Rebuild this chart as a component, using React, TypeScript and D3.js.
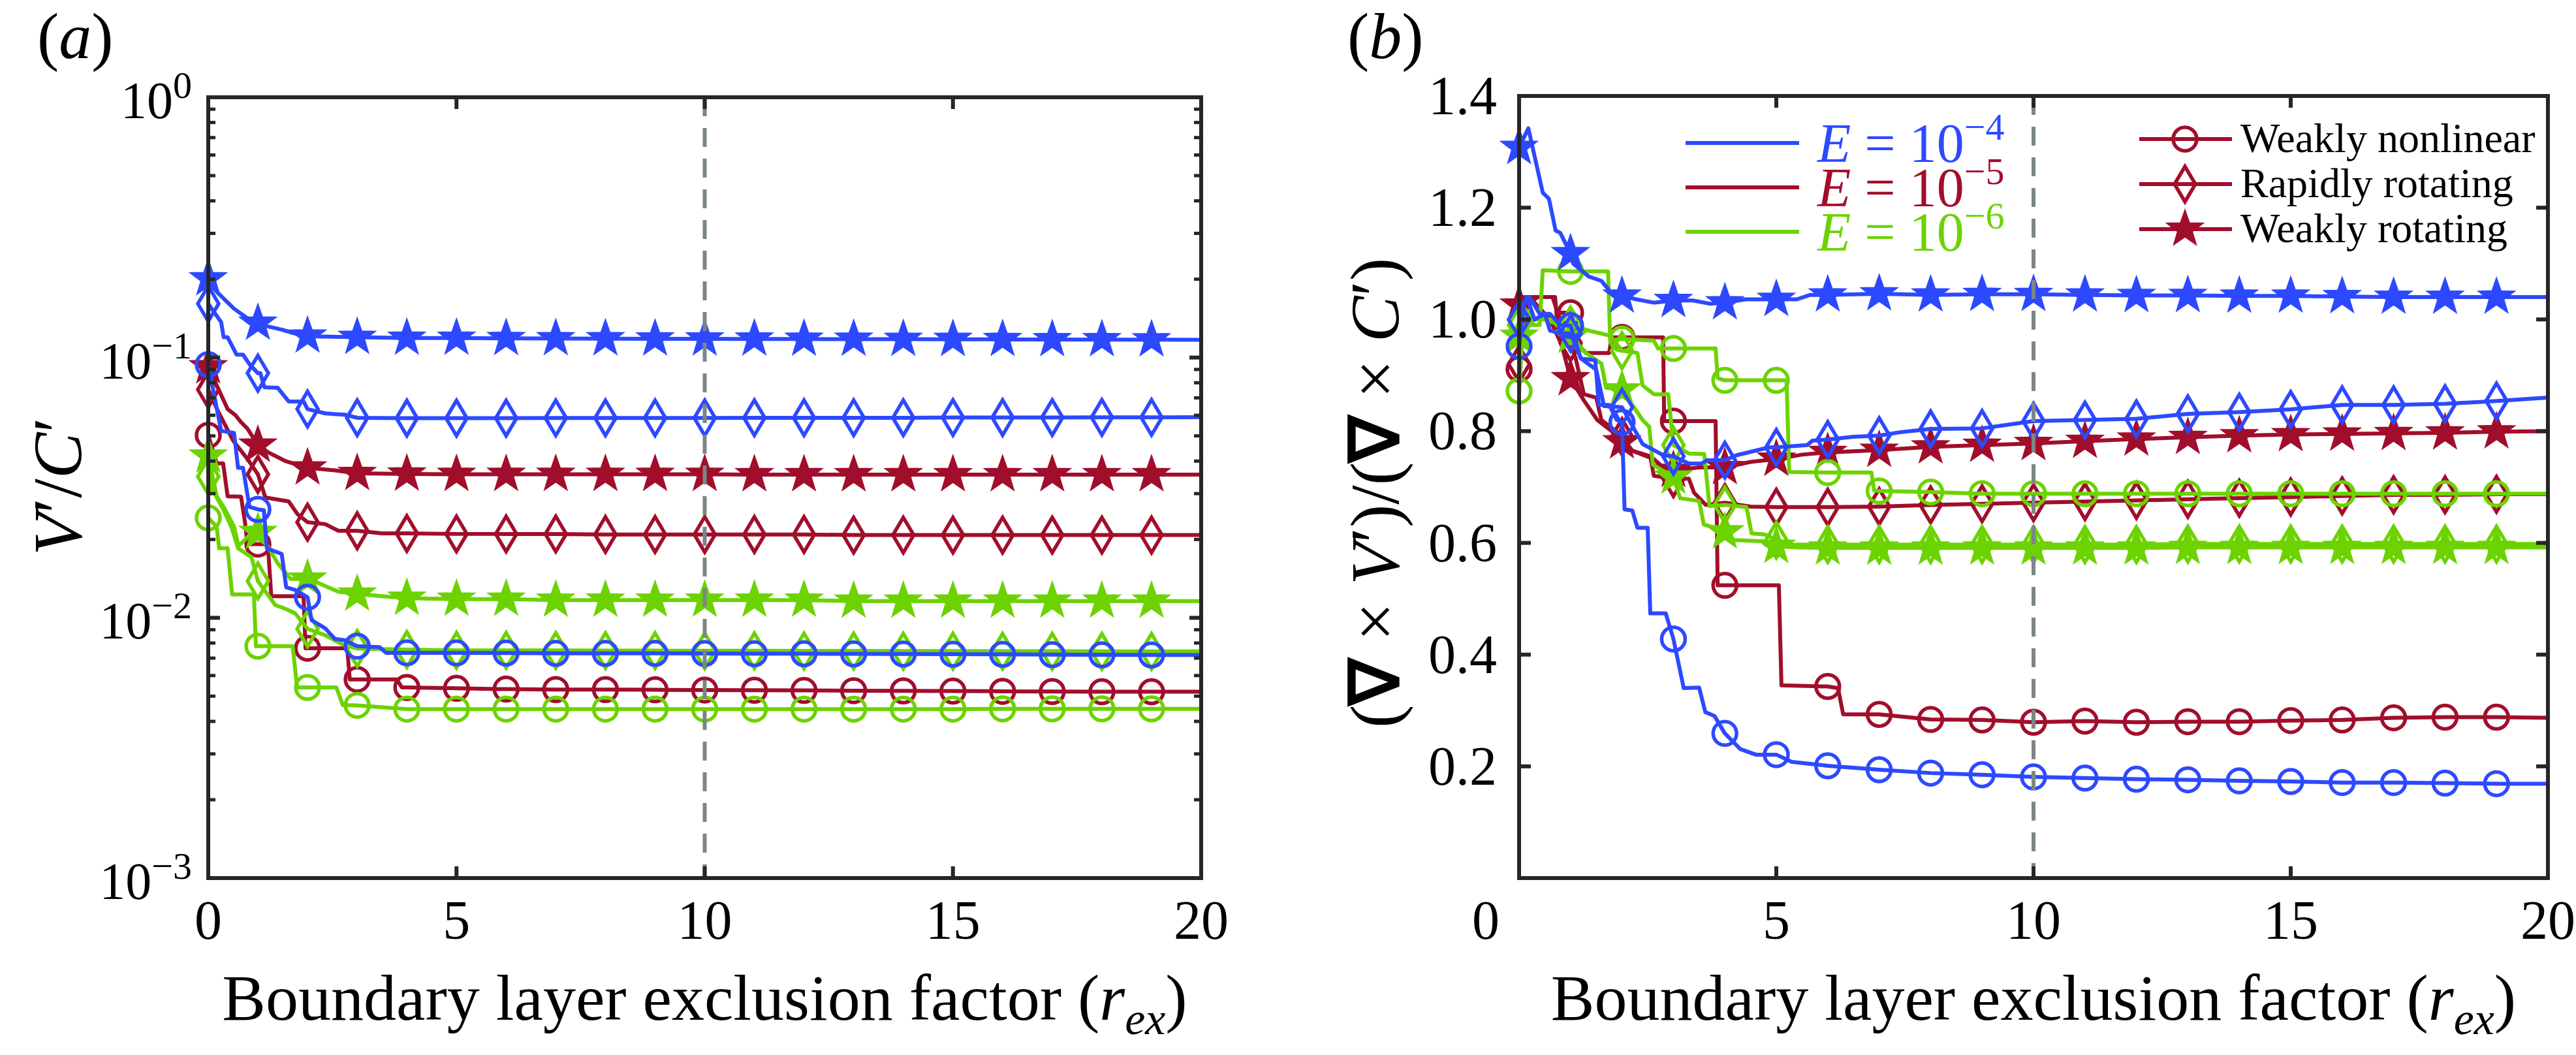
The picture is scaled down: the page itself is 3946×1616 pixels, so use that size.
import React from 'react';
import * as d3 from 'd3';

const W = 3946;
const H = 1616;
const BLUE = '#2D49FF';
const RED = '#A10E2B';
const GREEN = '#6CD300';
const AXIS = '#262626';
const DASH = '#7C8686';
const FONT = "'Liberation Serif', 'Times New Roman', serif";

// axis ticks
const xTickValues = [0, 5, 10, 15, 20];
const logDecades = [1e-3, 1e-2, 1e-1, 1];
const logExponents = ['−3', '−2', '−1', '0'];
const linTickValues = [0.2, 0.4, 0.6, 0.8, 1.0, 1.2, 1.4];
const linTickLabels = ['0.2', '0.4', '0.6', '0.8', '1.0', '1.2', '1.4'];
const legendExponents = ['−4', '−5', '−6'];
const legendKinds = ['Weakly nonlinear', 'Rapidly rotating', 'Weakly rotating'];
const cutoff = 10;

// panel (a): V'/C'  [r_ex, value]
const aBlueCircle = [[0, 0.094], [0.26, 0.0523], [0.52, 0.0513], [0.6, 0.0377], [0.7, 0.0377], [0.83, 0.0267], [1, 0.0261], [1.12, 0.0259], [1.18, 0.0185], [1.48, 0.0176], [1.57, 0.0131], [1.75, 0.0128], [2, 0.012], [2.08, 0.0098], [2.36, 0.0091], [2.55, 0.0083], [2.75, 0.0082], [3, 0.00778], [3.45, 0.00772], [3.58, 0.00734], [4, 0.00734], [5, 0.00733], [6, 0.00732], [7, 0.0073], [8, 0.0073], [9, 0.0073], [10, 0.00729], [11, 0.00728], [12, 0.00728], [13, 0.00727], [14, 0.00726], [15, 0.00725], [16, 0.00724], [17, 0.00722], [18, 0.00721], [19, 0.0072], [20, 0.0072]];
const aBlueDiamond = [[0, 0.161], [0.26, 0.1368], [0.31, 0.1197], [0.39, 0.1197], [0.57, 0.1026], [0.7, 0.1026], [0.83, 0.0943], [1, 0.0871], [1.05, 0.0871], [1.13, 0.0769], [1.4, 0.0765], [1.62, 0.0678], [1.92, 0.0678], [2, 0.0634], [2.36, 0.061], [2.75, 0.0603], [3, 0.0587], [4, 0.0585], [5, 0.0585], [6, 0.0585], [7, 0.0586], [8, 0.0586], [9, 0.0586], [10, 0.0586], [11, 0.0587], [12, 0.0587], [13, 0.0587], [14, 0.0587], [15, 0.0588], [16, 0.0588], [17, 0.0588], [18, 0.0589], [19, 0.0589], [20, 0.059]];
const aBlueStar = [[0, 0.201], [0.17, 0.179], [0.52, 0.154], [0.83, 0.1397], [1, 0.1356], [1.18, 0.132], [1.48, 0.128], [1.79, 0.123], [2, 0.121], [2.27, 0.1205], [3, 0.1197], [4, 0.1188], [5, 0.1188], [6, 0.1185], [7, 0.1183], [8, 0.1182], [9, 0.118], [10, 0.118], [11, 0.1179], [12, 0.1178], [13, 0.1177], [14, 0.1176], [15, 0.1175], [16, 0.1174], [17, 0.1173], [18, 0.1172], [19, 0.1171], [20, 0.117]];
const aRedCircle = [[0, 0.0503], [0.17, 0.0392], [0.3, 0.0392], [0.39, 0.0293], [0.66, 0.0292], [0.74, 0.0233], [0.79, 0.0192], [1, 0.0192], [1.2, 0.0192], [1.27, 0.0121], [1.92, 0.0121], [1.96, 0.00764], [2, 0.00764], [2.8, 0.00764], [2.85, 0.0058], [3, 0.0058], [3.8, 0.0058], [3.9, 0.0054], [4, 0.0054], [5, 0.00536], [6, 0.00532], [7, 0.0053], [8, 0.0053], [9, 0.00529], [10, 0.00528], [11, 0.00527], [12, 0.00526], [13, 0.00525], [14, 0.00524], [15, 0.00523], [16, 0.00522], [17, 0.00521], [18, 0.0052], [19, 0.0052], [20, 0.0052]];
const aRedDiamond = [[0, 0.0753], [0.2, 0.062], [0.5, 0.048], [0.8, 0.0405], [1, 0.0356], [1.15, 0.029], [1.62, 0.028], [1.8, 0.025], [2, 0.0233], [2.36, 0.0229], [2.62, 0.0216], [3, 0.0216], [3.5, 0.0211], [4, 0.0211], [5, 0.021], [6, 0.021], [7, 0.021], [8, 0.0209], [9, 0.0209], [10, 0.0209], [11, 0.0209], [12, 0.0209], [13, 0.0208], [14, 0.0208], [15, 0.0208], [16, 0.0208], [17, 0.0208], [18, 0.0208], [19, 0.0208], [20, 0.0208]];
const aRedStar = [[0, 0.0922], [0.17, 0.0783], [0.39, 0.0634], [0.55, 0.06], [0.66, 0.0565], [0.79, 0.0533], [1, 0.0461], [1.22, 0.0431], [1.57, 0.0399], [2, 0.0377], [2.53, 0.0369], [3, 0.0359], [4, 0.0357], [5, 0.0356], [6, 0.0356], [7, 0.0356], [8, 0.0356], [9, 0.0356], [10, 0.0356], [11, 0.0355], [12, 0.0355], [13, 0.0355], [14, 0.0355], [15, 0.0355], [16, 0.0355], [17, 0.0355], [18, 0.0355], [19, 0.0355], [20, 0.0355]];
const aGreenCircle = [[0, 0.0242], [0.17, 0.0224], [0.22, 0.0185], [0.39, 0.0185], [0.48, 0.0123], [0.92, 0.0123], [0.96, 0.00778], [1, 0.00778], [1.7, 0.00778], [1.79, 0.0054], [2, 0.0054], [2.58, 0.0054], [2.71, 0.00462], [3, 0.00461], [4, 0.00446], [5, 0.00446], [6, 0.00446], [7, 0.00446], [8, 0.00446], [9, 0.00446], [10, 0.00446], [11, 0.00446], [12, 0.00446], [13, 0.00446], [14, 0.00446], [15, 0.00446], [16, 0.00447], [17, 0.00447], [18, 0.00447], [19, 0.00447], [20, 0.00447]];
const aGreenDiamond = [[0, 0.0349], [0.17, 0.029], [0.3, 0.0262], [0.48, 0.022], [0.6, 0.0185], [0.87, 0.0171], [1, 0.01385], [1.35, 0.0112], [1.57, 0.0108], [1.75, 0.0104], [2, 0.00907], [2.36, 0.00857], [2.7, 0.0079], [3, 0.00762], [4, 0.00755], [5, 0.0075], [6, 0.0075], [7, 0.00749], [8, 0.00748], [9, 0.00748], [10, 0.00747], [11, 0.00747], [12, 0.00746], [13, 0.00746], [14, 0.00745], [15, 0.00745], [16, 0.00744], [17, 0.00744], [18, 0.00743], [19, 0.00743], [20, 0.00743]];
const aGreenStar = [[0, 0.0419], [0.17, 0.0293], [0.31, 0.0267], [0.52, 0.0224], [0.61, 0.0189], [0.8, 0.0205], [1, 0.0213], [1.22, 0.0185], [1.4, 0.0162], [1.66, 0.0141], [2, 0.0141], [2.18, 0.0137], [2.62, 0.0126], [3, 0.01235], [3.5, 0.0121], [4, 0.0119], [5, 0.0118], [6, 0.0118], [7, 0.0117], [8, 0.0117], [9, 0.0117], [10, 0.0117], [11, 0.0117], [12, 0.0117], [13, 0.0116], [14, 0.0116], [15, 0.0116], [16, 0.0116], [17, 0.0116], [18, 0.0116], [19, 0.0116], [20, 0.0116]];

// panel (b): (curl V')/(curl C')
const bBlueCircle = [[0, 0.952], [0.1, 1.03], [0.2, 1.04], [0.4, 1.01], [0.6, 1.01], [0.8, 0.99], [1, 0.989], [1.2, 0.93], [1.48, 0.927], [1.55, 0.847], [1.75, 0.847], [1.9, 0.82], [2, 0.816], [2.05, 0.66], [2.2, 0.658], [2.3, 0.627], [2.5, 0.627], [2.55, 0.474], [2.85, 0.474], [3, 0.428], [3.2, 0.34], [3.5, 0.341], [3.62, 0.297], [3.8, 0.29], [4, 0.259], [4.3, 0.231], [4.6, 0.221], [5, 0.221], [5.3, 0.208], [6, 0.201], [7, 0.194], [8, 0.188], [9, 0.185], [10, 0.181], [11, 0.179], [12, 0.177], [13, 0.176], [14, 0.174], [15, 0.173], [16, 0.171], [17, 0.171], [18, 0.17], [19, 0.169], [20, 0.169]];
const bBlueDiamond = [[0, 1.0], [0.15, 1.04], [0.3, 1.0], [0.5, 1.01], [0.6, 0.98], [0.8, 0.975], [1, 0.975], [1.2, 0.93], [1.5, 0.91], [1.65, 0.845], [2, 0.843], [2.4, 0.777], [2.8, 0.757], [3, 0.755], [3.3, 0.742], [3.55, 0.742], [3.65, 0.748], [4, 0.748], [4.23, 0.757], [4.86, 0.771], [5, 0.771], [5.6, 0.775], [5.7, 0.783], [6, 0.785], [6.5, 0.79], [7, 0.792], [7.4, 0.798], [8, 0.804], [9, 0.805], [10, 0.818], [11, 0.82], [12, 0.822], [13, 0.831], [14, 0.834], [15, 0.839], [16, 0.847], [17, 0.847], [18, 0.849], [19, 0.854], [20, 0.86]];
const bBlueStar = [[0, 1.308], [0.18, 1.342], [0.46, 1.227], [0.58, 1.216], [0.71, 1.159], [0.8, 1.155], [1, 1.118], [1.05, 1.1], [1.35, 1.077], [1.6, 1.069], [1.77, 1.05], [2, 1.042], [2.28, 1.036], [2.62, 1.03], [3, 1.034], [3.38, 1.034], [3.72, 1.028], [4, 1.03], [4.4, 1.036], [5, 1.036], [5.4, 1.036], [5.66, 1.044], [6, 1.044], [7, 1.046], [8, 1.044], [9, 1.045], [10, 1.045], [11, 1.044], [12, 1.043], [13, 1.043], [14, 1.042], [15, 1.042], [16, 1.041], [17, 1.04], [18, 1.04], [19, 1.04], [20, 1.04]];
const bRedCircle = [[0, 0.911], [0.1, 1.0], [0.2, 1.04], [0.65, 1.04], [0.75, 1.012], [1, 1.012], [1.2, 0.95], [1.3, 0.94], [1.75, 0.94], [1.8, 0.968], [2, 0.968], [2.8, 0.968], [2.82, 0.818], [3, 0.818], [3.82, 0.818], [3.86, 0.524], [4, 0.524], [5.05, 0.524], [5.1, 0.345], [6, 0.343], [6.2, 0.34], [6.3, 0.293], [7, 0.293], [8, 0.284], [9, 0.283], [10, 0.279], [11, 0.281], [12, 0.279], [13, 0.28], [14, 0.28], [15, 0.282], [16, 0.283], [17, 0.287], [18, 0.288], [19, 0.288], [20, 0.287]];
const bRedDiamond = [[0, 0.92], [0.1, 1.03], [0.3, 1.03], [0.6, 1.0], [0.8, 0.96], [1, 0.958], [1.1, 0.93], [1.26, 0.866], [1.5, 0.86], [1.6, 0.82], [1.94, 0.796], [2, 0.79], [2.2, 0.765], [2.55, 0.755], [2.62, 0.72], [3, 0.715], [3.3, 0.715], [3.4, 0.69], [3.63, 0.668], [4, 0.672], [4.5, 0.665], [5, 0.664], [6, 0.664], [7, 0.665], [8, 0.668], [9, 0.67], [10, 0.672], [11, 0.674], [12, 0.676], [13, 0.678], [14, 0.68], [15, 0.682], [16, 0.684], [17, 0.686], [18, 0.686], [19, 0.687], [20, 0.687]];
const bRedStar = [[0, 1.026], [0.1, 1.04], [0.7, 1.04], [0.76, 0.975], [0.88, 0.936], [1, 0.894], [1.26, 0.855], [1.52, 0.82], [1.8, 0.8], [2, 0.781], [2.2, 0.765], [2.62, 0.75], [2.8, 0.735], [3, 0.73], [3.5, 0.735], [4, 0.735], [4.5, 0.745], [5, 0.75], [5.5, 0.758], [6, 0.762], [7, 0.766], [8, 0.772], [9, 0.775], [10, 0.778], [11, 0.782], [12, 0.786], [13, 0.789], [14, 0.792], [15, 0.794], [16, 0.795], [17, 0.796], [18, 0.797], [19, 0.799], [20, 0.8]];
const bGreenCircle = [[0, 0.872], [0.08, 0.99], [0.4, 0.99], [0.46, 1.088], [1, 1.086], [1.73, 1.086], [1.77, 0.962], [2, 0.965], [2.62, 0.962], [2.7, 0.948], [3, 0.948], [3.82, 0.948], [3.86, 0.895], [4, 0.891], [5, 0.891], [5.2, 0.891], [5.25, 0.727], [6, 0.726], [6.85, 0.726], [6.9, 0.694], [7, 0.693], [8, 0.691], [9, 0.688], [10, 0.688], [11, 0.688], [12, 0.688], [13, 0.688], [14, 0.688], [15, 0.688], [16, 0.688], [17, 0.688], [18, 0.688], [19, 0.688], [20, 0.688]];
const bGreenDiamond = [[0, 0.99], [0.1, 1.02], [0.3, 1.0], [0.5, 1.0], [0.8, 0.99], [1, 0.99], [1.4, 0.979], [1.77, 0.971], [2, 0.944], [2.3, 0.94], [2.4, 0.882], [2.62, 0.866], [2.9, 0.866], [3, 0.775], [3.3, 0.76], [3.6, 0.759], [3.7, 0.666], [4, 0.668], [4.42, 0.664], [4.52, 0.617], [4.78, 0.615], [5, 0.605], [5.33, 0.597], [6, 0.597], [7, 0.597], [8, 0.597], [9, 0.597], [10, 0.597], [11, 0.597], [12, 0.597], [13, 0.598], [14, 0.598], [15, 0.598], [16, 0.598], [17, 0.598], [18, 0.598], [19, 0.598], [20, 0.598]];
const bGreenStar = [[0, 0.97], [0.3, 1.0], [0.6, 1.0], [1, 0.97], [1.3, 0.94], [1.6, 0.921], [1.69, 0.878], [2, 0.874], [2.4, 0.82], [2.53, 0.808], [2.6, 0.74], [3, 0.718], [3.13, 0.68], [3.5, 0.675], [3.59, 0.633], [3.8, 0.627], [4, 0.62], [4.18, 0.605], [4.73, 0.603], [4.82, 0.595], [5, 0.594], [5.41, 0.592], [6, 0.591], [7, 0.591], [8, 0.591], [9, 0.591], [10, 0.591], [11, 0.591], [12, 0.591], [13, 0.592], [14, 0.592], [15, 0.592], [16, 0.592], [17, 0.592], [18, 0.592], [19, 0.592], [20, 0.592]];

const panelA = [
  { data: aRedCircle, color: RED, marker: 'circle' },
  { data: aRedDiamond, color: RED, marker: 'diamond' },
  { data: aRedStar, color: RED, marker: 'star' },
  { data: aGreenCircle, color: GREEN, marker: 'circle' },
  { data: aGreenDiamond, color: GREEN, marker: 'diamond' },
  { data: aGreenStar, color: GREEN, marker: 'star' },
  { data: aBlueCircle, color: BLUE, marker: 'circle' },
  { data: aBlueDiamond, color: BLUE, marker: 'diamond' },
  { data: aBlueStar, color: BLUE, marker: 'star' },
];
const panelB = [
  { data: bRedCircle, color: RED, marker: 'circle' },
  { data: bRedDiamond, color: RED, marker: 'diamond' },
  { data: bRedStar, color: RED, marker: 'star' },
  { data: bGreenCircle, color: GREEN, marker: 'circle' },
  { data: bGreenDiamond, color: GREEN, marker: 'diamond' },
  { data: bGreenStar, color: GREEN, marker: 'star' },
  { data: bBlueCircle, color: BLUE, marker: 'circle' },
  { data: bBlueDiamond, color: BLUE, marker: 'diamond' },
  { data: bBlueStar, color: BLUE, marker: 'star' },
];

const starPath = (R: number) => {
  const pts = d3.range(10).map(i => {
    const a = -Math.PI / 2 + i * Math.PI / 5;
    const r = i % 2 === 0 ? R : R * 0.4;
    return [r * Math.cos(a), r * Math.sin(a)];
  });
  return 'M' + pts.map(p => p[0].toFixed(2) + ',' + p[1].toFixed(2)).join('L') + 'Z';
};
const STAR = starPath(29);
const DIAMOND = 'M0,-27L16,0L0,27L-16,0Z';

function Marker({ kind, color, cx, cy }: any) {
  if (kind === 'circle')
    return <circle cx={cx} cy={cy} r={18} fill="none" stroke={color} strokeWidth={5.5} />;
  if (kind === 'diamond')
    return <path transform={`translate(${cx},${cy})`} d={DIAMOND} fill="none" stroke={color} strokeWidth={5.5} strokeLinejoin="miter" />;
  return <path transform={`translate(${cx},${cy})`} d={STAR} fill={color} stroke={color} strokeWidth={2} strokeLinejoin="miter" />;
}

function Series({ s, x, y }: any) {
  const line = d3.line<number[]>().x(d => x(d[0])).y(d => y(d[1]));
  const marks = s.data.filter((d: number[]) => Number.isInteger(d[0]) && d[0] < 20);
  return (
    <g>
      <path d={line(s.data) || ''} fill="none" stroke={s.color} strokeWidth={6} strokeLinejoin="round" />
      {marks.map((d: number[], i: number) => (
        <Marker key={i} kind={s.marker} color={s.color} cx={x(d[0])} cy={y(d[1])} />
      ))}
    </g>
  );
}

function XLabel({ cx }: { cx: number }) {
  return (
    <text x={cx} y={1562} textAnchor="middle" fontSize={100} fontFamily={FONT} fill="#000">
      Boundary layer exclusion factor (<tspan fontStyle="italic">r</tspan>
      <tspan fontStyle="italic" fontSize={70} dy={22}>ex</tspan>
      <tspan dy={-22}>)</tspan>
    </text>
  );
}

export default function App() {
  const xA = d3.scaleLinear().domain([0, 20]).range([319, 1840]);
  const yA = d3.scaleLog().domain([1e-3, 1]).range([1345, 149]);
  const xB = d3.scaleLinear().domain([0, 20]).range([2327, 3903]);
  const yB = d3.scaleLinear().domain([0, 1.4]).range([1345, 147]);

  const minorA: number[] = [];
  logDecades.slice(0, 3).forEach(d => { for (let k = 2; k <= 9; k++) minorA.push(k * d); });

  const [ax0, ax1] = xA.range();
  const [ay1, ay0] = yA.range();
  const [bx0, bx1] = xB.range();
  const [by1, by0] = yB.range();
  const inner = xTickValues.filter(v => v > 0 && v < 20);

  return (
    <svg width={W} height={H} style={{ position: 'absolute', left: 0, top: 0, background: '#fff' }}>
      <rect x={0} y={0} width={W} height={H} fill="#fff" />

      {/* ---------- panel (a) ---------- */}
      <text x={57} y={89} fontSize={100} fontFamily={FONT}>(<tspan fontStyle="italic">a</tspan>)</text>
      {panelA.map((s, i) => <Series key={i} s={s} x={xA} y={yA} />)}
      <line x1={xA(cutoff)} x2={xA(cutoff)} y1={ay0} y2={ay1} stroke={DASH} strokeWidth={6} strokeDasharray="29 18" />
      <rect x={ax0} y={ay0} width={ax1 - ax0} height={ay1 - ay0} fill="none" stroke={AXIS} strokeWidth={6} />
      {inner.map(v => (
        <g key={v} stroke={AXIS} strokeWidth={6}>
          <line x1={xA(v)} x2={xA(v)} y1={ay1} y2={ay1 - 18} />
          <line x1={xA(v)} x2={xA(v)} y1={ay0} y2={ay0 + 18} />
        </g>
      ))}
      {logDecades.map(v => (
        <g key={v} stroke={AXIS} strokeWidth={6}>
          <line x1={ax0} x2={ax0 + 18} y1={yA(v)} y2={yA(v)} />
          <line x1={ax1} x2={ax1 - 18} y1={yA(v)} y2={yA(v)} />
        </g>
      ))}
      {minorA.map(v => (
        <g key={v} stroke={AXIS} strokeWidth={5}>
          <line x1={ax0} x2={ax0 + 11} y1={yA(v)} y2={yA(v)} />
          <line x1={ax1} x2={ax1 - 11} y1={yA(v)} y2={yA(v)} />
        </g>
      ))}
      {logDecades.map((v, i) => (
        <text key={v} x={294} y={yA(v) + 32} textAnchor="end" fontSize={80} fontFamily={FONT}>
          10<tspan fontSize={58} dy={-31}>{logExponents[i]}</tspan>
        </text>
      ))}
      {xTickValues.map(v => (
        <text key={v} x={xA(v)} y={1438} textAnchor="middle" fontSize={84} fontFamily={FONT}>{v}</text>
      ))}
      <text transform={`translate(124,745) rotate(-90)`} textAnchor="middle" fontSize={106} fontFamily={FONT}>
        <tspan fontStyle="italic">V</tspan>′/<tspan fontStyle="italic">C</tspan>′
      </text>
      <XLabel cx={xA(10)} />

      {/* ---------- panel (b) ---------- */}
      <text x={2064} y={89} fontSize={100} fontFamily={FONT}>(<tspan fontStyle="italic">b</tspan>)</text>
      {panelB.map((s, i) => <Series key={i} s={s} x={xB} y={yB} />)}
      <line x1={xB(cutoff)} x2={xB(cutoff)} y1={by0} y2={by1} stroke={DASH} strokeWidth={6} strokeDasharray="29 18" />
      <rect x={bx0} y={by0} width={bx1 - bx0} height={by1 - by0} fill="none" stroke={AXIS} strokeWidth={6} />
      {inner.map(v => (
        <g key={v} stroke={AXIS} strokeWidth={6}>
          <line x1={xB(v)} x2={xB(v)} y1={by1} y2={by1 - 18} />
          <line x1={xB(v)} x2={xB(v)} y1={by0} y2={by0 + 18} />
        </g>
      ))}
      {linTickValues.map(v => (
        <g key={v} stroke={AXIS} strokeWidth={6}>
          <line x1={bx0} x2={bx0 + 18} y1={yB(v)} y2={yB(v)} />
          <line x1={bx1} x2={bx1 - 18} y1={yB(v)} y2={yB(v)} />
        </g>
      ))}
      {linTickValues.map((v, i) => (
        <text key={v} x={2293} y={yB(v) + 28} textAnchor="end" fontSize={84} fontFamily={FONT}>{linTickLabels[i]}</text>
      ))}
      {xTickValues.map(v => (
        <text key={v} x={v === 0 ? xB(v) - 51 : xB(v)} y={1438} textAnchor="middle" fontSize={84} fontFamily={FONT}>{v}</text>
      ))}
      <text transform={`translate(2142,755) rotate(-90)`} textAnchor="middle" fontSize={106} fontFamily={FONT}>
        (<tspan fontWeight="bold">∇</tspan> × <tspan fontStyle="italic">V</tspan>′)/(<tspan fontWeight="bold">∇</tspan> × <tspan fontStyle="italic">C</tspan>′)
      </text>
      <XLabel cx={xB(10)} />

      {/* legend: Ekman numbers */}
      {[BLUE, RED, GREEN].map((c, i) => (
        <g key={c}>
          <line x1={2582} x2={2756} y1={219 + i * 68} y2={219 + i * 68} stroke={c} strokeWidth={6} />
          <text x={2784} y={248 + i * 68} fontSize={84} fontFamily={FONT} fill={c}>
            <tspan fontStyle="italic">E</tspan> = 10<tspan fontSize={58} dy={-34}>{legendExponents[i]}</tspan>
          </text>
        </g>
      ))}
      {/* legend: regimes */}
      {['circle', 'diamond', 'star'].map((m, i) => (
        <g key={m}>
          <line x1={3277} x2={3419} y1={213 + i * 69} y2={213 + i * 69} stroke={RED} strokeWidth={6} />
          <Marker kind={m} color={RED} cx={3347} cy={213 + i * 69} />
          <text x={3432} y={233 + i * 69} fontSize={64} fontFamily={FONT} fill="#000">{legendKinds[i]}</text>
        </g>
      ))}
    </svg>
  );
}
